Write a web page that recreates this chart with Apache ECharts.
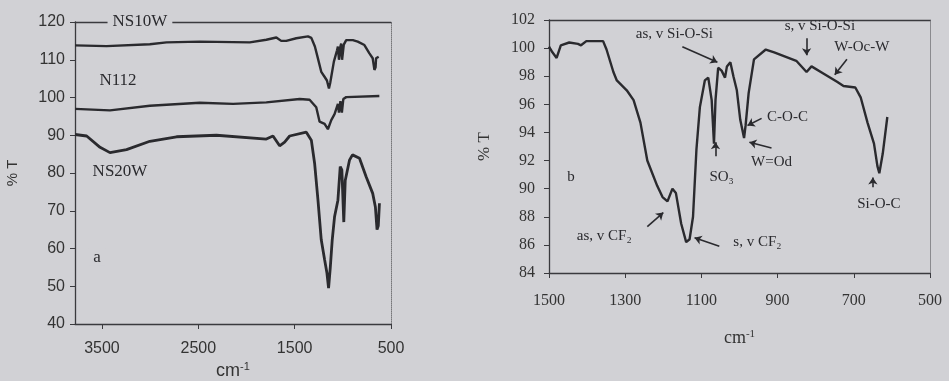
<!DOCTYPE html>
<html>
<head>
<meta charset="utf-8">
<script src="https://cdn.jsdelivr.net/npm/echarts@6/dist/echarts.min.js"></script>
<style>
  html, body { margin: 0; padding: 0; background: #d1d1d5; }
  #chart { width: 949px; height: 381px; }
</style>
</head>
<body>
<div id="chart"></div>
<script>
// panel a : wavenumber (cm-1), %T
var ns10w = [[3780,113.8],[3452,113.6],[3003,114.1],[2830,114.6],[2485,114.8],[1966,114.6],[1794,115.3],[1690,115.9],
  [1640,115.0],[1587,115.0],[1483,115.7],[1362,116.2],[1327,115.8],[1290,113.5],[1260,110.5],[1224,106.8],[1190,105.5],
  [1165,104.5],[1144,102.4],[1130,104.0],[1120,105.5],[1093,109.5],[1060,112.5],[1051,113.5],[1040,110.0],[1034,109.5],
  [1025,113.5],[1017,114.3],[1008,110.0],[1000,109.5],[990,114.0],[965,115.2],[896,115.2],[845,114.8],[776,113.9],
  [724,111.7],[690,110.4],[672,107.3],[660,108.0],[655,110.4],[628,110.8]];
var n112 = [[3780,97.0],[3417,96.6],[3003,97.8],[2485,98.6],[2139,98.3],[1794,98.7],[1448,99.6],[1345,99.4],[1276,97.4],
  [1241,93.6],[1189,93.0],[1155,91.6],[1120,94.0],[1086,95.6],[1051,98.3],[1040,96.0],[1025,99.0],[1010,96.0],
  [995,99.6],[965,100.1],[621,100.4]];
var ns20w = [[3780,90.2],[3659,89.8],[3520,86.8],[3417,85.4],[3245,86.2],[3003,88.4],[2726,89.6],[2312,90.0],[1794,89.0],
  [1725,89.8],[1656,87.2],[1604,88.2],[1552,89.8],[1379,90.8],[1327,88.7],[1293,82.6],[1258,72.8],[1224,62.3],
  [1189,57.0],[1165,53.5],[1148,49.5],[1130,55.0],[1110,62.3],[1086,68.4],[1051,72.8],[1027,81.7],[1010,80.8],
  [990,67.0],[975,78.0],[931,83.4],[900,84.8],[827,83.9],[758,79.0],[690,74.6],[662,71.0],[645,65.0],[632,66.0],[620,72.0]];

// panel b : wavenumber (cm-1), %T
var specB = [[1500,100.1],[1491,99.7],[1480,99.3],[1469,100.2],[1447,100.4],[1424,100.3],[1416,100.2],[1402,100.5],
  [1358,100.5],[1349,99.9],[1331,98.3],[1322,97.7],[1296,97.0],[1278,96.3],[1260,94.7],[1242,92.0],[1229,91.1],
  [1216,90.2],[1202,89.4],[1189,89.1],[1176,90.0],[1167,89.7],[1153,87.5],[1140,86.2],[1131,86.4],[1122,88.0],
  [1113,92.8],[1104,95.8],[1091,97.7],[1082,97.9],[1073,96.3],[1067,93.2],[1063,96.3],[1056,98.6],[1047,98.4],
  [1038,97.9],[1033,98.7],[1024,99.0],[1016,98.0],[1007,97.0],[998,94.9],[988,93.6],[984,94.5],[976,96.8],
  [962,99.2],[931,99.9],[909,99.7],[851,99.1],[824,98.3],[811,98.7],[780,98.2],[744,97.6],[727,97.3],[696,97.2],
  [682,96.5],[664,94.7],[647,93.2],[638,91.6],[633,91.1],[624,92.5],[612,95.1]];

var labelsA = [['NS10W',3106,120],['N112',3334,104.6],['NS20W',3313,80.3],['a',3552,57.7]];
var labelsB = [['b',1442,90.8],['as, v Si-O-Si',1171,101.0],['s, v Si-O-Si',789,101.6],['W-Oc-W',679,100.1],
  ['C-O-C',874,95.1],['W=Od',916,91.9],['SO\u2083',1047,90.8],['Si-O-C',634,88.9],
  ['as, v CF\u2082',1355,86.6],['s, v CF\u2082',953,86.2]];
var arrowsB = [[[1150,100.1],[1058,99.0]],[[824,100.7],[824,99.5]],[[718,99.2],[750,98.1]],[[942,95.0],[979,94.5]],
  [[916,92.9],[974,93.3]],[[1063,92.3],[1063,93.3]],[[650,90.1],[650,90.8]],[[1242,87.3],[1200,88.3]],
  [[1053,85.9],[1118,86.5]]];

var bg = '#d1d1d5';
var ink = '#2a2a2e';
var serif = '"Liberation Serif", "DejaVu Serif", serif';
var sans = '"Liberation Sans", Arial, sans-serif';
var plain = function (v) { return String(v); };

function textMarks(list, font, size, withBg) {
  return {
    symbolSize: 0,
    silent: true,
    label: {
      show: true, position: 'inside', formatter: '{b}', color: ink,
      fontFamily: font, fontSize: size,
      backgroundColor: withBg ? bg : 'transparent', padding: withBg ? [0, 5] : 0
    },
    data: list.map(function (t) { return { name: t[0], coord: [t[1], t[2]] }; })
  };
}

function frameX(grid, min, max, interval, pos) {
  return {
    gridIndex: grid, type: 'value', position: pos, min: min, max: max, interval: interval, inverse: true,
    axisLine: { show: true, lineStyle: { color: '#3a3a3e', width: 1.3 } },
    axisTick: { show: pos === 'bottom', length: 5, lineStyle: { color: '#3a3a3e' } },
    axisLabel: { show: pos === 'bottom', showMaxLabel: false, color: '#333', formatter: plain },
    splitLine: { show: false }
  };
}
function frameY(grid, min, max, interval, pos, dotted) {
  return {
    gridIndex: grid, type: 'value', position: pos, min: min, max: max, interval: interval,
    axisLine: { show: true, onZero: false, lineStyle: { color: dotted ? '#77777a' : '#3a3a3e', width: dotted ? 1 : 1.3, type: dotted ? 'dotted' : 'solid' } },
    axisTick: { show: pos === 'left', length: 5, lineStyle: { color: '#3a3a3e' } },
    axisLabel: { show: pos === 'left', color: '#333', formatter: plain },
    splitLine: { show: false }
  };
}

var chart = echarts.init(document.getElementById('chart'));

var xa = frameX(0, 500, 3780, 1000, 'bottom');
xa.axisLabel.fontFamily = sans; xa.axisLabel.fontSize = 16; xa.axisLabel.margin = 17;
xa.name = 'cm{s|-1}'; xa.nameLocation = 'middle'; xa.nameGap = 36;
xa.nameTextStyle = { color: '#333', fontFamily: sans, fontSize: 18, rich: { s: { fontSize: 11, verticalAlign: 'top', color: '#333', padding: [0, 0, 8, 0] } } };

var ya = frameY(0, 40, 120, 10, 'left', false);
ya.axisLabel.fontFamily = sans; ya.axisLabel.fontSize = 16; ya.axisLabel.margin = 10;
ya.name = '% T'; ya.nameLocation = 'middle'; ya.nameGap = 55; ya.nameRotate = 90;
ya.nameTextStyle = { color: '#333', fontFamily: sans, fontSize: 15 };

var xb = frameX(2, 500, 1500, 200, 'bottom');
xb.axisLabel.fontFamily = serif; xb.axisLabel.fontSize = 16; xb.axisLabel.margin = 20; xb.axisLabel.showMaxLabel = true;
xb.name = 'cm{s|-1}'; xb.nameLocation = 'middle'; xb.nameGap = 56;
xb.nameTextStyle = { color: '#333', fontFamily: serif, fontSize: 18, rich: { s: { fontSize: 11, verticalAlign: 'top', color: '#333', padding: [0, 0, 8, 0] } } };

var yb = frameY(2, 84, 102, 2, 'left', false);
yb.axisLabel.fontFamily = serif; yb.axisLabel.fontSize = 16; yb.axisLabel.margin = 14;
yb.name = '% T'; yb.nameLocation = 'middle'; yb.nameGap = 56; yb.nameRotate = 90;
yb.nameTextStyle = { color: '#333', fontFamily: serif, fontSize: 17 };

var xbTop = frameX(2, 500, 1500, 200, 'top');
var ybRight = frameY(2, 84, 102, 2, 'right', false);
ybRight.axisLine.lineStyle.color = '#8a8a8e'; ybRight.axisLine.lineStyle.width = 1;

var lineA = { color: ink, width: 2.4 };

chart.setOption({
  backgroundColor: bg,
  animation: false,
  grid: [
    { left: 75, top: 22, width: 316, height: 302, outerBoundsMode: 'none' },
    { left: 75, top: 22, width: 316, height: 302, outerBoundsMode: 'none' },
    { left: 549, top: 20, width: 381, height: 253, outerBoundsMode: 'none' }
  ],
  xAxis: [xa, frameX(1, 500, 3780, 1000, 'top'), xb, xbTop],
  yAxis: [ya, frameY(1, 40, 120, 10, 'right', true), yb, ybRight],
  series: [
    { type: 'line', xAxisIndex: 0, yAxisIndex: 0, data: ns10w, showSymbol: false, lineStyle: lineA,
      markPoint: textMarks(labelsA, serif, 17, true) },
    { type: 'line', xAxisIndex: 0, yAxisIndex: 0, data: n112, showSymbol: false, lineStyle: lineA },
    { type: 'line', xAxisIndex: 0, yAxisIndex: 0, data: ns20w, showSymbol: false, lineStyle: { color: ink, width: 2.8 } },
    { type: 'line', xAxisIndex: 2, yAxisIndex: 2, data: specB, showSymbol: false, lineStyle: { color: ink, width: 2.4 },
      markPoint: textMarks(labelsB, serif, 15, false),
      markLine: {
        silent: true, symbol: ['none', 'arrow'], symbolSize: 7,
        label: { show: false },
        lineStyle: { color: ink, width: 1.6, type: 'solid' },
        data: arrowsB.map(function (a) { return [{ coord: a[0] }, { coord: a[1] }]; })
      } }
  ]
});
</script>
</body>
</html>
